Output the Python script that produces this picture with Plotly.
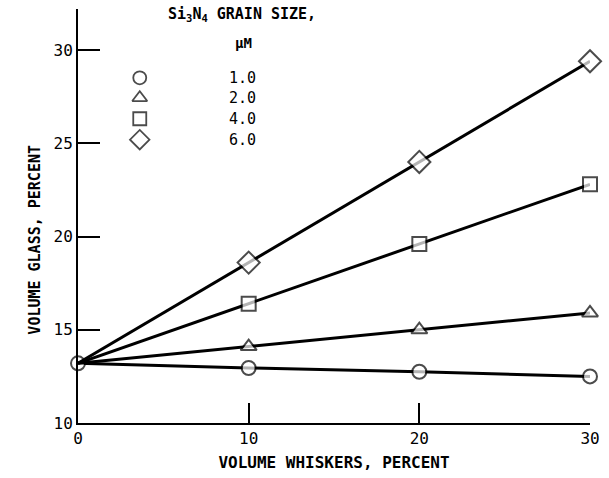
import plotly.graph_objects as go

# ---- data ----
whiskers = [0, 10, 20, 30]
glass_1um = [13.2, 12.95, 12.75, 12.5]
glass_2um = [13.2, 14.1, 15.0, 15.9]
glass_4um = [13.2, 16.4, 19.6, 22.8]
glass_6um = [13.2, 18.6, 24.0, 29.4]
grain_labels = ["1.0", "2.0", "4.0", "6.0"]
symbols = ["circle", "triangle-up", "square", "diamond"]
marker_sizes = [14, 14, 14, 17]
x_ticks = [0, 10, 20, 30]
y_ticks = [10, 15, 20, 25, 30]

FONT = "DejaVu Sans Mono, Liberation Mono, monospace"

# plot area in figure pixels
PL, PR, PT, PB = 78, 592, 9, 424

fig = go.Figure()

series = [glass_1um, glass_2um, glass_4um, glass_6um]
for i, ys in enumerate(series):
    sizes = [marker_sizes[i] if (i == 0 or j > 0) else 0 for j in range(len(ys))]
    fig.add_trace(go.Scatter(
        x=whiskers, y=ys, mode="lines+markers",
        line=dict(color="black", width=3),
        marker=dict(symbol=symbols[i], size=sizes,
                    color="white", line=dict(color="black", width=2)),
        cliponaxis=False, showlegend=False, hoverinfo="skip"))

# legend drawn on an overlay axis measured in figure pixels
leg_rows_y = [78, 98, 119, 140]
leg_sym_x = 140
leg_num_x = 243
fig.add_trace(go.Scatter(
    x=[leg_sym_x] * 4, y=leg_rows_y, mode="markers", xaxis="x2", yaxis="y2",
    marker=dict(symbol=symbols, size=[13, 13, 13, 15],
                color="white", line=dict(color="black", width=1.8)),
    cliponaxis=False, showlegend=False, hoverinfo="skip"))
for lbl, yy in zip(grain_labels, leg_rows_y):
    fig.add_annotation(x=leg_num_x, y=yy, xref="x2", yref="y2", text=lbl,
                       showarrow=False, font=dict(family=FONT, size=15, color="black"))
fig.add_annotation(x=243, y=15, xref="x2", yref="y2",
                   text="<b>Si<sub>3</sub>N<sub>4</sub> GRAIN SIZE,</b>",
                   showarrow=False, font=dict(family=FONT, size=15, color="black"))
fig.add_annotation(x=244, y=43, xref="x2", yref="y2", text="<b>\u03bcM</b>",
                   showarrow=False, font=dict(family=FONT, size=14, color="black"))
# y axis title (paper coordinates)
fig.add_annotation(x=(24 - PL) / (PR - PL), y=(PB - 240) / (PB - PT),
                   xref="paper", yref="paper", text="<b>VOLUME GLASS, PERCENT</b>",
                   textangle=-90, showarrow=False,
                   font=dict(family=FONT, size=15, color="black"))

fig.update_layout(
    width=609, height=478,
    margin=dict(l=PL, r=609 - PR, t=PT, b=478 - PB),
    paper_bgcolor="white", plot_bgcolor="white",
    font=dict(family=FONT, size=16, color="black"),
    xaxis=dict(range=[0, 30], tickvals=x_ticks, ticks="inside", ticklen=20,
               tickwidth=1.5, tickcolor="black", showline=True, linecolor="black",
               linewidth=2, showgrid=False, zeroline=False,
               title=dict(text="<b>VOLUME WHISKERS, PERCENT</b>", font=dict(size=16), standoff=10),
               tickfont=dict(size=16)),
    yaxis=dict(range=[10, 32.2], tickvals=y_ticks, ticks="inside", ticklen=22,
               tickwidth=1.5, tickcolor="black", showline=True, linecolor="black",
               linewidth=2, showgrid=False, zeroline=False,
               tickfont=dict(size=16)),
    xaxis2=dict(overlaying="x", range=[PL, PR], visible=False, fixedrange=True),
    yaxis2=dict(overlaying="y", range=[PB, PT], visible=False, fixedrange=True),
)

fig.write_html("out.html")
